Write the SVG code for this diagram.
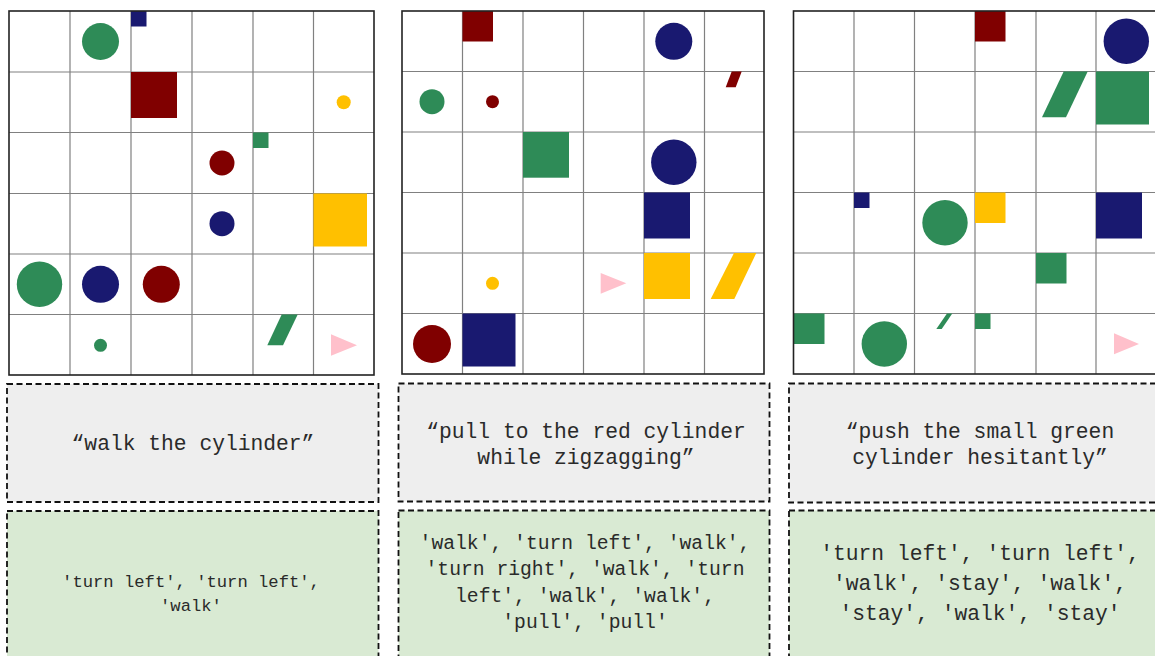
<svg xmlns="http://www.w3.org/2000/svg" width="1155" height="656" viewBox="0 0 1155 656">
<style>
.gl{stroke:#808080;stroke-width:1.2;fill:none}
.gb{stroke:#222222;stroke-width:1.6;fill:none}
.gr{fill:#2E8B57}
.mr{fill:#800000}
.nv{fill:#191970}
.yl{fill:#FFC000}
.pk{fill:#FFC0CB}
.q{fill:#EEEEEE;stroke:#111;stroke-width:1.8;stroke-dasharray:6,3.5}
.a{fill:#D9EAD3;stroke:#111;stroke-width:1.8;stroke-dasharray:6,3.5}
.t{font-family:"Liberation Mono","Courier New",monospace;fill:#2a2a2a;text-anchor:middle}
</style>
<rect width="1155" height="656" fill="#ffffff"/>

<g id="grid1">
<path class="gl" d="M70,11V375M131,11V375M192,11V375M253,11V375M313.5,11V375M9,72H374M9,132.5H374M9,193.5H374M9,254H374M9,314.5H374"/>
<circle class="gr" cx="100.5" cy="41.5" r="18.5"/>
<rect class="nv" x="131" y="11" width="15.5" height="15.5"/>
<rect class="mr" x="131" y="72" width="46" height="46"/>
<circle class="yl" cx="343.7" cy="102.3" r="7"/>
<rect class="gr" x="253" y="132.5" width="15.5" height="15.5"/>
<circle class="mr" cx="222" cy="163" r="12.5"/>
<circle class="nv" cx="222" cy="223.7" r="12.5"/>
<rect class="yl" x="313.5" y="193.5" width="53.5" height="53"/>
<circle class="gr" cx="39.5" cy="284.3" r="22.7"/>
<circle class="nv" cx="100.5" cy="284.3" r="18.5"/>
<circle class="mr" cx="161.3" cy="284.3" r="18.5"/>
<circle class="gr" cx="100.5" cy="345.3" r="6.5"/>
<polygon class="gr" points="281.7,314.5 297.7,314.5 283,345.3 267.3,345.3"/>
<polygon class="pk" points="331,334.3 357,345.3 331,355.7"/>
<rect class="gb" x="9" y="11" width="365" height="364"/>
</g>

<g id="grid2">
<path class="gl" d="M462.5,11V374M523,11V374M583.5,11V374M644,11V374M704.5,11V374M402,71.5H764M402,132H764M402,192.5H764M402,253H764M402,313.5H764"/>
<rect class="mr" x="462.5" y="11" width="30.5" height="30.5"/>
<circle class="nv" cx="673.8" cy="41.3" r="18.5"/>
<polygon class="mr" points="731.7,71.5 741.7,71.5 735.7,87.3 725.7,87.3"/>
<circle class="gr" cx="432" cy="101.7" r="12.5"/>
<circle class="mr" cx="492.5" cy="101.7" r="6.5"/>
<rect class="gr" x="523" y="132" width="46" height="45.7"/>
<circle class="nv" cx="673.8" cy="162.3" r="22.7"/>
<rect class="nv" x="644" y="192.5" width="46" height="46"/>
<circle class="yl" cx="492.5" cy="283.3" r="6.5"/>
<polygon class="pk" points="600.7,273 626.3,283.3 600.7,293.7"/>
<rect class="yl" x="644" y="253" width="46" height="46"/>
<polygon class="yl" points="734,253 756.3,253 734.3,299 710.7,299"/>
<circle class="mr" cx="432" cy="344" r="19"/>
<rect class="nv" x="462.5" y="313.5" width="53" height="53"/>
<rect class="gb" x="402" y="11" width="362" height="363"/>
</g>

<g id="grid3">
<path class="gl" d="M854,11V374M914.5,11V374M975,11V374M1036,11V374M1096,11V374M793.5,71.5H1156.5M793.5,132H1156.5M793.5,192.5H1156.5M793.5,253H1156.5M793.5,313.5H1156.5"/>
<rect class="mr" x="975" y="11" width="30.5" height="30.5"/>
<circle class="nv" cx="1126.3" cy="41.3" r="22.7"/>
<polygon class="gr" points="1063.7,71.5 1087.7,71.5 1066,117.3 1042,117.3"/>
<rect class="gr" x="1096" y="71.5" width="53" height="53"/>
<rect class="nv" x="854" y="192.5" width="15.5" height="15.5"/>
<circle class="gr" cx="945" cy="222.7" r="22.7"/>
<rect class="yl" x="975" y="192.5" width="30.5" height="30.5"/>
<rect class="nv" x="1096" y="192.5" width="46" height="46"/>
<rect class="gr" x="1036" y="253" width="30.5" height="30.5"/>
<rect class="gr" x="793.5" y="313.5" width="31" height="30.5"/>
<circle class="gr" cx="884.3" cy="344" r="22.7"/>
<polygon class="gr" points="947,313.5 952.3,313.5 941.7,329 936.3,329"/>
<rect class="gr" x="975" y="313.5" width="15.5" height="15.5"/>
<polygon class="pk" points="1114,333.3 1139,344 1114,354.3"/>
<rect class="gb" x="793.5" y="11" width="363" height="363"/>
</g>

<g id="instr1">
<rect class="q" x="7" y="384" width="371.5" height="118"/>
<text class="t" x="193" y="450" font-size="21.3">“walk the cylinder”</text>
</g>
<g id="act1">
<rect class="a" x="7" y="511" width="371.5" height="160"/>
<text class="t" x="191" y="587" font-size="17.2">'turn left', 'turn left',</text>
<text class="t" x="191" y="611" font-size="17.2">'walk'</text>
</g>

<g id="instr2">
<rect class="q" x="398.5" y="383.5" width="371" height="118"/>
<text class="t" x="586" y="438" font-size="21.3">“pull to the red cylinder</text>
<text class="t" x="586" y="464" font-size="21.3">while zigzagging”</text>
</g>
<g id="act2">
<rect class="a" x="398.5" y="510.5" width="371" height="160"/>
<text class="t" x="585" y="549" font-size="19.7">'walk', 'turn left', 'walk',</text>
<text class="t" x="585" y="575" font-size="19.7">'turn right', 'walk', 'turn</text>
<text class="t" x="585" y="602" font-size="19.7">left', 'walk', 'walk',</text>
<text class="t" x="585" y="628" font-size="19.7">'pull', 'pull'</text>
</g>

<g id="instr3">
<rect class="q" x="789" y="383.5" width="380" height="119"/>
<text class="t" x="980" y="438" font-size="21.3">“push the small green</text>
<text class="t" x="980" y="464" font-size="21.3">cylinder hesitantly”</text>
</g>
<g id="act3">
<rect class="a" x="789" y="510.5" width="380" height="160"/>
<text class="t" x="980" y="560" font-size="21.3">'turn left', 'turn left',</text>
<text class="t" x="980" y="590" font-size="21.3">'walk', 'stay', 'walk',</text>
<text class="t" x="980" y="620" font-size="21.3">'stay', 'walk', 'stay'</text>
</g>

<g id="connectors"></g>
</svg>
